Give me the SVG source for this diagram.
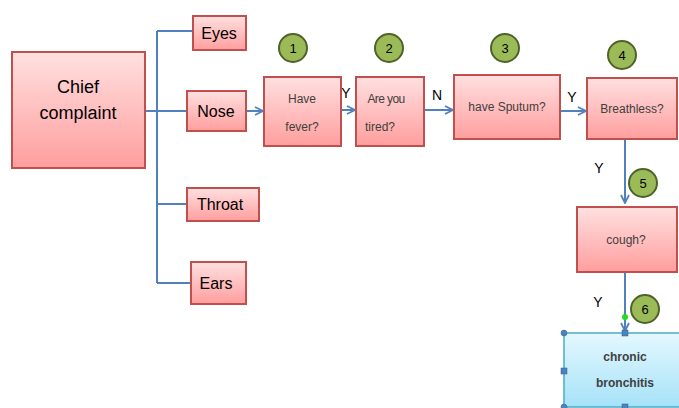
<svg xmlns="http://www.w3.org/2000/svg" width="679" height="408" viewBox="0 0 679 408">
<defs>
<linearGradient id="pink" x1="0" y1="0" x2="0" y2="1">
<stop offset="0" stop-color="#FFE0E0"/>
<stop offset="1" stop-color="#FF9E9E"/>
</linearGradient>
<linearGradient id="blue" x1="0" y1="0" x2="0" y2="1">
<stop offset="0" stop-color="#E4F8FF"/>
<stop offset="1" stop-color="#A6E2F8"/>
</linearGradient>
<marker id="arr" markerWidth="10" markerHeight="10" refX="9" refY="5" orient="auto" markerUnits="userSpaceOnUse">
<path d="M1,1 L9,5 L1,9" fill="none" stroke="#4F81BD" stroke-width="1.8"/>
</marker>
<style>
.box{fill:url(#pink);stroke:#C0504D;stroke-width:2}
.num{fill:#9BBB59;stroke:#4F6228;stroke-width:2}
.c{fill:none;stroke:#4F81BD;stroke-width:2}
.big{font-family:"Liberation Sans",Arial,sans-serif;fill:#000;text-anchor:middle}
.sm{font-family:"Liberation Sans",Arial,sans-serif;font-size:12px;fill:#404040;text-anchor:middle}
.lbl{font-family:"Liberation Sans",Arial,sans-serif;font-size:14px;fill:#000;text-anchor:middle}
.nt{font-family:"Liberation Sans",Arial,sans-serif;font-size:13px;fill:#000;text-anchor:middle}
.h{fill:#4F81BD;stroke:#2E5E9A;stroke-width:0.5}
</style>
</defs>
<rect width="679" height="408" fill="#fff"/>
<g id="connectors">
<path class="c" d="M157,31 V283"/>
<path class="c" d="M157,31 H192"/>
<path class="c" d="M145,111 H187"/>
<path class="c" d="M157,204 H187"/>
<path class="c" d="M157,283 H191"/>
<path class="c" d="M246,111 H263" marker-end="url(#arr)"/>
<path class="c" d="M341,110 H355" marker-end="url(#arr)"/>
<path class="c" d="M424,110 H453" marker-end="url(#arr)"/>
<path class="c" d="M560,111 H586" marker-end="url(#arr)"/>
<path class="c" d="M625,139 V203" marker-end="url(#arr)"/>
<path class="c" d="M625,272 V331" marker-end="url(#arr)"/>
<text class="lbl" x="346" y="98">Y</text>
<text class="lbl" x="437" y="100">N</text>
<text class="lbl" x="572" y="102">Y</text>
<text class="lbl" x="599" y="173">Y</text>
<text class="lbl" x="598" y="307">Y</text>
</g>
<g id="chief"><rect class="box" x="12" y="52" width="133" height="116"/>
<text class="big" font-size="18" x="78" y="93">Chief</text>
<text class="big" font-size="18" x="78" y="119">complaint</text></g>
<g id="eyes"><rect class="box" x="193" y="16" width="53" height="34"/><text class="big" font-size="16" x="219" y="39">Eyes</text></g>
<g id="nose"><rect class="box" x="187" y="91" width="59" height="40"/><text class="big" font-size="16" x="216" y="117">Nose</text></g>
<g id="throat"><rect class="box" x="187" y="188" width="72" height="33"/><text class="big" font-size="16" x="220" y="210">Throat</text></g>
<g id="ears"><rect class="box" x="191" y="262" width="55" height="42"/><text class="big" font-size="16" x="216" y="289">Ears</text></g>
<g id="q1"><rect class="box" x="264" y="77" width="77" height="69"/>
<text class="sm" x="302" y="103">Have</text><text class="sm" x="302" y="131">fever?</text>
<circle class="num" cx="293" cy="48" r="14"/><text class="nt" x="293" y="53">1</text></g>
<g id="q2"><rect class="box" x="356" y="77" width="68" height="69"/>
<text class="sm" x="386" y="103" letter-spacing="-0.6">Are you</text><text class="sm" x="380" y="131">tired?</text>
<circle class="num" cx="389" cy="48" r="14"/><text class="nt" x="389" y="53">2</text></g>
<g id="q3"><rect class="box" x="454" y="75" width="106" height="64"/>
<text class="sm" x="507" y="111">have Sputum?</text>
<circle class="num" cx="505" cy="48" r="14"/><text class="nt" x="505" y="53">3</text></g>
<g id="q4"><rect class="box" x="587" y="78" width="90" height="61"/>
<text class="sm" x="632" y="113">Breathless?</text>
<circle class="num" cx="622" cy="55" r="14"/><text class="nt" x="622" y="60">4</text></g>
<g id="q5"><rect class="box" x="577" y="207" width="100" height="65"/>
<text class="sm" x="626" y="244">cough?</text>
<circle class="num" cx="643" cy="183" r="14"/><text class="nt" x="643" y="188">5</text></g>
<g id="result"><rect x="564" y="333" width="120" height="74" fill="url(#blue)" stroke="#4BACC6" stroke-width="1.5"/>
<text class="sm" x="625" y="361" font-weight="bold" fill="#000">chronic</text>
<text class="sm" x="625" y="387" font-weight="bold" fill="#000">bronchitis</text>
<circle class="num" cx="645" cy="309" r="14"/><text class="nt" x="645" y="314">6</text>
<circle cx="625" cy="317" r="3" fill="#22DD22"/>
<rect class="h" x="622" y="330" width="6" height="6"/>
<rect class="h" x="561" y="368" width="6" height="6"/>
<rect class="h" x="622" y="404" width="6" height="6"/>
<circle class="h" cx="564" cy="333" r="3"/>
<circle class="h" cx="564" cy="407" r="3"/></g>
</svg>
